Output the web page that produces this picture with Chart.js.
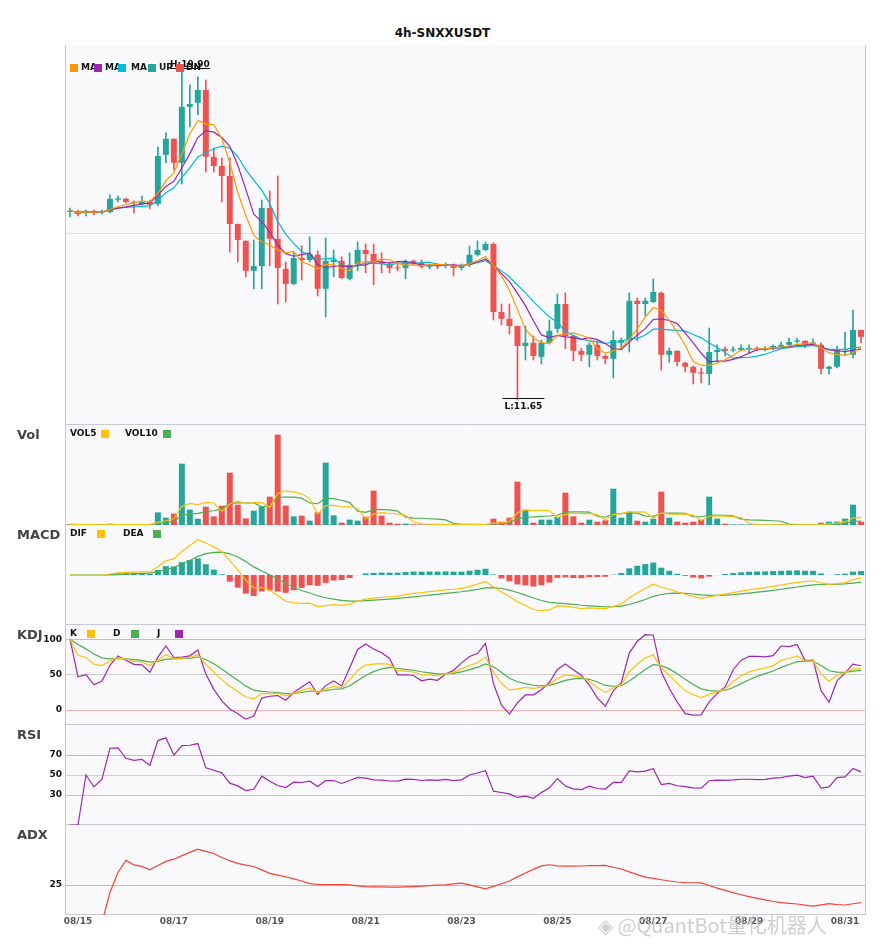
<!DOCTYPE html>
<html>
<head>
<meta charset="utf-8">
<script src="https://cdn.jsdelivr.net/npm/chart.js@4"></script>
<style>
  body { margin: 0; background: #fff; font-family: "DejaVu Sans", sans-serif; }
  #wrap { position: relative; width: 885px; height: 950px; }
  canvas { position: absolute; left: 0; }
  .title { position: absolute; top: 26px; width: 885px; text-align: center; font-weight: bold; font-size: 12px; color: #111; }
  .pname { position: absolute; left: 17px; font-weight: bold; font-size: 13px; color: #444; }
  .wm { position: absolute; left: 598px; top: 910px; font-size: 20px; color: rgba(190,190,190,0.75); font-family: "Noto Sans CJK SC", sans-serif; }
</style>
</head>
<body>
<div id="wrap">
  <div class="title">4h-SNXXUSDT</div>
  <canvas id="main"></canvas>
  <canvas id="vol"></canvas>
  <canvas id="macd"></canvas>
  <canvas id="kdj"></canvas>
  <canvas id="rsi"></canvas>
  <canvas id="adx"></canvas>
  <div class="pname" style="top:427px">Vol</div>
  <div class="pname" style="top:527px">MACD</div>
  <div class="pname" style="top:627px">KDJ</div>
  <div class="pname" style="top:727px">RSI</div>
  <div class="pname" style="top:827px">ADX</div>
  <div class="wm">◈ @QuantBot量化机器人</div>
</div>
<script>
// 4h candles, 08/15 .. 08/31
const openP = [16.35,16.35,16.33,16.38,16.34,16.35,16.66,16.68,16.60,16.55,16.60,16.55,17.78,18.18,17.58,18.98,19.08,19.40,17.73,17.50,
  17.25,16.05,15.63,14.88,15.00,16.45,15.68,14.93,14.55,15.20,15.15,15.28,14.43,15.10,15.13,14.68,15.05,15.40,15.30,15.10,
  15.05,14.96,14.95,15.13,15.10,14.98,15.03,15.00,15.00,14.95,15.03,15.28,15.40,15.55,13.85,13.68,13.50,13.00,13.08,12.73,
  13.08,13.43,14.05,13.25,12.88,12.78,13.03,12.75,12.68,13.08,13.15,14.13,14.05,14.10,14.33,12.78,12.88,12.58,12.48,12.34,
  12.30,12.85,12.93,12.89,12.90,12.90,12.95,12.91,12.93,12.98,13.03,13.11,13.13,13.06,13.03,12.43,12.48,12.90,12.78,13.40];
const highP = [16.45,16.40,16.40,16.40,16.40,16.78,16.75,16.70,16.63,16.75,16.65,17.98,18.33,18.18,19.90,19.53,19.73,19.65,17.95,17.70,
  17.70,16.05,15.63,15.65,16.65,16.88,17.25,15.10,15.33,15.50,15.73,15.38,15.70,15.40,15.23,15.33,15.60,15.55,15.55,15.33,
  15.10,15.10,15.15,15.15,15.15,15.05,15.05,15.08,15.05,15.05,15.50,15.63,15.60,15.58,14.05,14.05,13.50,13.50,13.25,13.15,
  13.65,14.30,14.33,13.25,12.95,13.08,13.13,12.78,13.38,13.20,14.33,14.20,14.20,14.68,14.35,12.95,12.88,12.60,12.50,12.45,
  13.45,13.03,12.98,12.98,13.03,13.03,12.98,12.98,13.03,13.10,13.20,13.20,13.13,13.18,13.08,12.50,13.00,13.35,13.90,13.40];
const lowP = [16.23,16.25,16.25,16.28,16.30,16.33,16.60,16.58,16.33,16.53,16.43,16.50,17.58,17.40,17.05,18.48,18.78,17.35,17.35,16.60,
  15.35,15.10,14.73,14.43,14.43,15.00,14.05,14.10,14.53,14.65,15.10,14.25,13.73,14.73,14.68,14.65,14.88,14.83,14.53,14.83,
  14.83,14.88,14.68,15.03,14.95,14.93,14.93,14.95,14.75,14.90,14.98,15.25,15.38,13.65,13.53,13.30,11.65,12.65,12.65,12.55,
  13.05,13.33,12.93,12.63,12.63,12.48,12.65,12.55,12.20,12.90,12.85,13.13,13.75,14.08,12.40,12.60,12.50,12.35,12.05,12.08,
  12.03,12.60,12.75,12.85,12.88,12.83,12.88,12.88,12.90,12.95,13.00,13.08,12.95,13.03,12.30,12.30,12.45,12.78,12.70,13.08];
const closeP = [16.38,16.30,16.38,16.33,16.36,16.68,16.69,16.60,16.58,16.60,16.53,17.75,18.18,17.58,18.98,19.05,19.40,17.73,17.50,17.25,
  16.05,15.65,14.88,15.00,16.45,15.68,14.95,14.55,15.20,15.15,15.30,14.43,15.13,15.15,14.70,15.03,15.40,15.30,15.08,15.05,
  14.95,14.94,15.10,15.08,14.98,15.03,14.99,15.05,14.95,15.00,15.28,15.40,15.55,13.85,13.68,13.50,13.00,13.08,12.75,13.08,
  13.38,14.05,13.25,12.88,12.78,13.03,12.75,12.68,13.15,13.15,14.13,14.05,14.13,14.35,12.78,12.88,12.60,12.48,12.33,12.31,
  12.85,12.90,12.88,12.91,12.95,12.95,12.93,12.94,13.00,13.03,13.10,13.14,13.03,13.09,12.43,12.48,12.90,12.93,13.40,13.23];
const volume = [2,0.5,0.5,0.5,0.5,4,0.5,0.5,1,1,2,38,22,34,184,46,19,55,26,58,
  157,61,20,43,56,85,271,58,26,28,13,38,187,29,7,16,13,25,103,28,
  7,4,4,2,1,1,1,1,1,1,3,1,3,19,10,22,130,46,7,16,
  16,24,97,26,7,16,10,14,109,22,40,13,10,19,100,22,10,7,10,16,
  85,19,4,1,1,1,0.3,0.3,0.3,0.3,0.2,0.2,0.2,0.2,7,10,10,19,61,10];
const dateTicks = ["08/15","08/17","08/19","08/21","08/23","08/25","08/27","08/29","08/31"];
const labels = closeP.map((_, i) => (i % 12 === 1 ? dateTicks[(i - 1) / 12] : ""));

const UP = "#26a69a", DN = "#ef5350";
const upDown = closeP.map((c, i) => (c >= openP[i] ? UP : DN));

// indicator helpers
function ma(src, n) {
  return src.map((_, i) => {
    const s = src.slice(Math.max(0, i - n + 1), i + 1);
    return s.reduce((a, b) => a + b, 0) / s.length;
  });
}
function ema(src, n) {
  const k = 2 / (n + 1); let prev = src[0];
  return src.map((v, i) => (prev = i === 0 ? v : prev + k * (v - prev)));
}
const ma5 = ma(closeP, 5), ma7 = ma(closeP, 7), ma10 = ma(closeP, 10);
const vol5 = ma(volume, 5), vol10 = ma(volume, 10);

const e12 = ema(closeP, 12), e26 = ema(closeP, 26);
const dif = e12.map((v, i) => v - e26[i]);
const dea = ema(dif, 9);
const hist = dif.map((v, i) => v - dea[i]);

// KDJ 9,3,3
const kArr = [], dArr = [], jArr = [];
let kp = 100, dp = 100;
closeP.forEach((c, i) => {
  const lo = Math.min(...lowP.slice(Math.max(0, i - 8), i + 1));
  const hi = Math.max(...highP.slice(Math.max(0, i - 8), i + 1));
  const rsv = hi === lo ? 50 : (c - lo) / (hi - lo) * 100;
  if (i > 0) { kp = (2 * kp + rsv) / 3; dp = (2 * dp + kp) / 3; }
  kArr.push(kp); dArr.push(dp); jArr.push(3 * kp - 2 * dp);
});

// RSI 14
const rsi = [0];
let ag = 0, al = 0;
for (let i = 1; i < closeP.length; i++) {
  const ch = closeP[i] - closeP[i - 1];
  const n = Math.min(i, 14);
  ag = (ag * (n - 1) + Math.max(ch, 0)) / n;
  al = (al * (n - 1) + Math.max(-ch, 0)) / n;
  rsi.push(al === 0 ? 100 : 100 - 100 / (1 + ag / al));
}

// ADX 14
const adx = [0];
let tr14 = 0, pdm14 = 0, mdm14 = 0, adxPrev = 0;
for (let i = 1; i < closeP.length; i++) {
  const tr = Math.max(highP[i] - lowP[i], Math.abs(highP[i] - closeP[i - 1]), Math.abs(lowP[i] - closeP[i - 1]));
  const up = highP[i] - highP[i - 1], dn = lowP[i - 1] - lowP[i];
  const pdm = up > dn && up > 0 ? up : 0, mdm = dn > up && dn > 0 ? dn : 0;
  const n = Math.min(i, 14);
  tr14 = (tr14 * (n - 1) + tr) / n; pdm14 = (pdm14 * (n - 1) + pdm) / n; mdm14 = (mdm14 * (n - 1) + mdm) / n;
  const pdi = pdm14 / tr14 * 100, mdi = mdm14 / tr14 * 100;
  const dx = pdi + mdi === 0 ? 0 : Math.abs(pdi - mdi) / (pdi + mdi) * 100;
  adxPrev = (adxPrev * (n - 1) + dx) / n;
  adx.push(i < 2 ? 0 : adxPrev);
}

// ---- shared chart setup ----
Chart.defaults.animation = false;
Chart.defaults.font.family = "DejaVu Sans";

const bgPlugin = {
  id: "bg",
  beforeDraw(chart) {
    const { ctx, chartArea: a } = chart;
    ctx.save();
    ctx.fillStyle = "#f9f9fc";
    ctx.fillRect(a.left, a.top, a.right - a.left, a.bottom - a.top);
    ctx.strokeStyle = "#c8c8d0"; ctx.lineWidth = 1;
    ctx.beginPath();
    ctx.moveTo(a.left - 0.5, a.top); ctx.lineTo(a.left - 0.5, a.bottom);
    ctx.moveTo(a.right + 0.5, a.top); ctx.lineTo(a.right + 0.5, a.bottom);
    ctx.moveTo(a.left, a.bottom - 0.5); ctx.lineTo(a.right, a.bottom - 0.5);
    ctx.stroke();
    ctx.restore();
  }
};

// tick labels drawn by hand so the axis does not reserve any space
const tickLabelPlugin = {
  id: "tickLabels",
  afterDraw(chart) {
    const vals = chart.options.plugins.tickLabels.values;
    if (!vals) return;
    const { ctx } = chart, y = chart.scales.y;
    ctx.save();
    ctx.font = "bold 9px DejaVu Sans"; ctx.fillStyle = "#111";
    ctx.textAlign = "right"; ctx.textBaseline = "middle";
    vals.forEach(v => ctx.fillText(String(v), 62, y.getPixelForValue(v)));
    ctx.restore();
  }
};

function legendPlugin(items) {
  return {
    id: "lg",
    afterDraw(chart) {
      const { ctx, chartArea: a } = chart;
      ctx.save();
      ctx.font = "bold 9px DejaVu Sans";
      ctx.textBaseline = "middle";
      items.forEach(it => {
        if (it.text) { ctx.fillStyle = "#111"; ctx.fillText(it.text, it.x, a.top + it.y); }
        if (it.sq) { ctx.fillStyle = it.sq; ctx.fillRect(it.sx, a.top + it.y - 4, 8, 8); }
      });
      ctx.restore();
    }
  };
}

function panel(id, top, height, yOpts, datasets, extraPlugins, padBottom, tickVals) {
  const cv = document.getElementById(id);
  cv.style.top = top + "px";
  cv.width = 885; cv.height = height + (padBottom || 0);
  cv.style.width = "885px"; cv.style.height = (height + (padBottom || 0)) + "px";
  return new Chart(cv, {
    type: "bar",
    data: { labels, datasets },
    options: {
      responsive: false,
      layout: { padding: { left: 0, right: 20, top: 0, bottom: padBottom || 0 } },
      plugins: { legend: { display: false }, tooltip: { enabled: false }, tickLabels: { values: tickVals } },
      scales: {
        x: { display: false, offset: true },
        y: Object.assign({
          afterFit: s => { s.width = 66; },
          border: { display: false },
          ticks: { display: false },
          grid: { display: false }
        }, yOpts)
      }
    },
    plugins: [bgPlugin, tickLabelPlugin].concat(extraPlugins || [])
  });
}

function line(data, color, w) {
  return { type: "line", data, borderColor: color, borderWidth: w || 1.2, pointRadius: 0, tension: 0, fill: false };
}

function refLines(vals, colors) {
  return {
    afterBuildTicks: s => { s.ticks = vals.map(v => ({ value: v })); },
    grid: { display: true, drawTicks: false, color: c => colors[vals.indexOf(c.tick.value)] || "#ddd" }
  };
}

// ---- main candle panel ----
const hiIdx = highP.indexOf(Math.max(...highP));
const loIdx = lowP.indexOf(Math.min(...lowP));
const hlPlugin = {
  id: "hl",
  afterDatasetsDraw(chart) {
    const { ctx } = chart, x = chart.scales.x, y = chart.scales.y;
    ctx.save();
    ctx.font = "bold 9px DejaVu Sans"; ctx.fillStyle = "#111"; ctx.strokeStyle = "#111"; ctx.lineWidth = 1;
    ctx.textAlign = "center";
    const hx = x.getPixelForValue(hiIdx) + 8, hy = y.getPixelForValue(highP[hiIdx]);
    ctx.beginPath(); ctx.moveTo(hx - 20, hy - 1.5); ctx.lineTo(hx + 20, hy - 1.5); ctx.stroke();
    ctx.textBaseline = "bottom"; ctx.fillText("H:" + highP[hiIdx].toFixed(2), hx, hy - 1);
    const lx = x.getPixelForValue(loIdx) + 6, ly = y.getPixelForValue(lowP[loIdx]);
    ctx.beginPath(); ctx.moveTo(lx - 21, ly - 1.5); ctx.lineTo(lx + 21, ly - 1.5); ctx.stroke();
    ctx.textBaseline = "top"; ctx.fillText("L:" + lowP[loIdx].toFixed(2), lx, ly + 2);
    ctx.restore();
  }
};
panel("main", 45, 380,
  Object.assign(refLines([15.8], ["#dcdce0"]), { min: 11.025, max: 20.525 }),
  [
    line(ma5, "#ff9800"), line(ma7, "#9c27b0"), line(ma10, "#00bcd4"),
    { data: lowP.map((l, i) => [l, highP[i]]), backgroundColor: upDown, barThickness: 1, grouped: false, minBarLength: 1 },
    { data: openP.map((o, i) => [o, closeP[i]]), backgroundColor: upDown, barPercentage: 0.75, categoryPercentage: 1, grouped: false, minBarLength: 1 }
  ],
  [hlPlugin, legendPlugin([
    { sq: "#ff9800", sx: 70, y: 23 }, { text: "MA", x: 81, y: 23 },
    { sq: "#9c27b0", sx: 94, y: 23 }, { text: "MA", x: 105, y: 23 },
    { sq: "#00bcd4", sx: 118, y: 23 }, { text: "MA", x: 131, y: 23 },
    { sq: UP, sx: 148, y: 23 }, { text: "UP", x: 159, y: 23 },
    { sq: DN, sx: 176, y: 23 }, { text: "DN", x: 186, y: 23 }
  ])]);

// ---- volume ----
panel("vol", 425, 100, { min: 0, max: 300 },
  [
    line(vol5, "#ffc107"), line(vol10, "#4caf50"),
    { data: volume, backgroundColor: upDown, barPercentage: 0.75, categoryPercentage: 1, minBarLength: 0.5 }
  ],
  [legendPlugin([
    { text: "VOL5", x: 70, y: 9 }, { sq: "#ffc107", sx: 101, y: 9 },
    { text: "VOL10", x: 125, y: 9 }, { sq: "#4caf50", sx: 163, y: 9 }
  ])]);

// ---- MACD ----
const mAbs = Math.max(...dif.map(Math.abs), ...hist.map(Math.abs));
panel("macd", 525, 100, { min: -mAbs * 1.4, max: mAbs * 1.4 },
  [
    line(dif, "#ffc107"), line(dea, "#4caf50"),
    { data: hist, backgroundColor: hist.map(v => (v >= 0 ? UP : DN)), barPercentage: 0.75, categoryPercentage: 1 }
  ],
  [legendPlugin([
    { text: "DIF", x: 70, y: 9 }, { sq: "#ffc107", sx: 97, y: 9 },
    { text: "DEA", x: 123, y: 9 }, { sq: "#4caf50", sx: 153, y: 9 }
  ])]);

// ---- KDJ ----
panel("kdj", 625, 100,
  Object.assign(refLines([100, 50, 0], ["#8fd6cc", "#d0d0d0", "#f3b0b0"]), { min: -21, max: 120 }),
  [line(kArr, "#ffc107"), line(dArr, "#4caf50"), line(jArr, "#9c27b0")],
  [legendPlugin([
    { text: "K", x: 70, y: 9 }, { sq: "#ffc107", sx: 87, y: 9 },
    { text: "D", x: 113, y: 9 }, { sq: "#4caf50", sx: 131, y: 9 },
    { text: "J", x: 157, y: 9 }, { sq: "#9c27b0", sx: 175, y: 9 }
  ])], 0, [100, 50, 0]);

// ---- RSI ----
panel("rsi", 725, 100,
  Object.assign(refLines([70, 50, 30], ["#8fd6cc", "#d0d0d0", "#f3b0b0"]), { min: 0, max: 100 }),
  [line(rsi, "#9c27b0")], [], 0, [70, 50, 30]);

// ---- ADX ----
const datePlugin = {
  id: "dates",
  afterDraw(chart) {
    const { ctx, chartArea: a } = chart, x = chart.scales.x;
    ctx.save();
    ctx.font = "bold 9px DejaVu Sans"; ctx.fillStyle = "#555"; ctx.textAlign = "center"; ctx.textBaseline = "top";
    labels.forEach((l, i) => { if (l) ctx.fillText(l, x.getPixelForValue(i), a.bottom + 2); });
    ctx.restore();
  }
};
panel("adx", 825, 90,
  Object.assign(refLines([25], ["#dba6e6"]), { min: 5, max: 65 }),
  [line(adx, "#f44336")], [datePlugin], 25, [25]);
</script>
</body>
</html>
